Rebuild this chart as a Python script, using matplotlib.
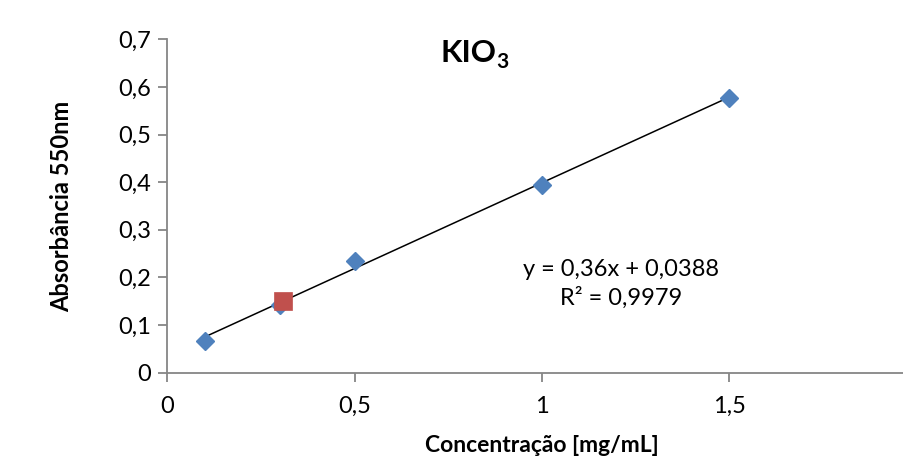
import numpy as np
import matplotlib
matplotlib.use("Agg")
import matplotlib.pyplot as plt
from matplotlib.ticker import FuncFormatter

# dados
conc = [0.1, 0.3, 0.5, 1.0, 1.5]
absorb = [0.067, 0.142, 0.235, 0.394, 0.577]
amostra_x = [0.308]
amostra_y = [0.150]
slope = 0.36
intercept = 0.0388
xticks = [0, 0.5, 1, 1.5]
yticks = [0, 0.1, 0.2, 0.3, 0.4, 0.5, 0.6, 0.7]

plt.rcParams['font.family'] = ['Lato', 'DejaVu Sans']

fig = plt.figure(figsize=(9.04, 4.58), dpi=100)
# eixo x vai ate 2, mas a imagem original esta cortada a direita
ax = fig.add_axes([167 / 904, 85.3 / 458, 750 / 904, 333.4 / 458])
ax.set_xlim(0, 2)
ax.set_ylim(0, 0.7)

xfit = np.array([min(conc), max(conc)])
ax.plot(xfit, slope * xfit + intercept, color='black', lw=1.1, zorder=2)
ax.plot(conc, absorb, 'D', color='#4F81BD', ms=9.5, mec='#4F81BD', zorder=3)
ax.plot(amostra_x, amostra_y, 's', color='#C0504D', ms=13.5, mec='#C0504D', mew=0.5, zorder=4)

ax.set_xticks(xticks)
ax.set_yticks(yticks)
fmt = FuncFormatter(lambda v, p: ('%g' % round(v, 2)).replace('.', ','))
ax.xaxis.set_major_formatter(fmt)
ax.yaxis.set_major_formatter(fmt)

for s in ['top', 'right']:
    ax.spines[s].set_visible(False)
for s in ['left', 'bottom']:
    ax.spines[s].set_color('#868686')
    ax.spines[s].set_linewidth(1.3)
ax.tick_params(direction='out', length=6.5, width=1.3, color='#868686',
               labelsize=17, labelcolor='black')
ax.tick_params(axis='x', pad=10)
ax.tick_params(axis='y', pad=5)

ax.set_xlabel('Concentração [mg/mL]', fontsize=16.5, fontweight='bold', labelpad=13)
ax.set_ylabel('Absorbância 550nm', fontsize=17, fontweight='bold', labelpad=32)

# titulo com subscrito em negrito
fig.text(497 / 904, 1 - 53 / 458, 'KIO', fontsize=22.5, fontweight='bold',
         ha='right', va='center')
fig.text(496 / 904, 1 - 62 / 458, '3', fontsize=15, fontweight='bold',
         ha='left', va='center')
ax.text(1.21, 0.187, 'y = 0,36x + 0,0388\nR² = 0,9979', fontsize=17,
        ha='center', va='center', linespacing=1.35)

fig.savefig('out.png', dpi=100)
